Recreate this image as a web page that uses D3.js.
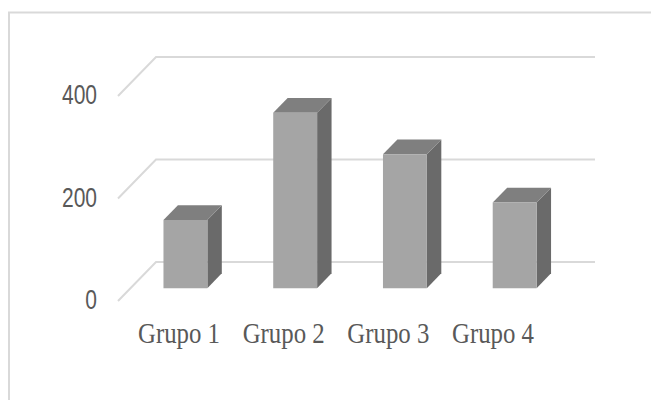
<!DOCTYPE html>
<html lang="en">
<head>
  <meta charset="utf-8">
  <script src="https://d3js.org/d3.v7.min.js"></script>
  <style>
    body { margin: 0; background: #fff; }
  </style>
</head>
<body>
<script type="text/javascript">
  var w = 651;
  var h = 400;

  var categories = ["Grupo 1", "Grupo 2", "Grupo 3", "Grupo 4"];
  var values = [133, 342, 261, 167];
  var tickValues = [0, 200, 400];

  // depth of the floor (back wall -> front edge)
  var depthX = 38, depthY = 39;
  var barFront = 0.67, barBack = 0.29;

  var svg = d3.select("body")
          .append("svg")
          .attr("width", w)
          .attr("height", h);

  // chart border
  svg.append("rect")
    .attr("x", 9)
    .attr("y", 12.5)
    .attr("width", w)
    .attr("height", h)
    .attr("fill", "none")
    .attr("stroke", "#d9d9d9")
    .attr("stroke-width", 2);

  var x = d3.scaleBand()
          .domain(categories)
          .range([156, 595])
          .paddingInner(0.6)
          .paddingOuter(0.3);

  var y = d3.scaleLinear()
          .domain([0, 400])
          .range([262, 57]);

  var labelX = d3.scalePoint()
          .domain(categories)
          .range([179, 493]);

  function pt(px, v, d) {
    return [px - depthX * d, y(v) + depthY * d];
  }

  // back wall gridlines + floor diagonals
  var grid = svg.append("g").attr("stroke", "#d9d9d9").attr("stroke-width", 2).attr("fill", "none");
  tickValues.forEach(function (t) {
    var a = pt(595, t, 0), b = pt(156, t, 0), c = pt(156, t, 1);
    grid.append("path").attr("d", d3.line()([a, b, c]));
  });

  // y labels
  svg.selectAll("text.ytick")
    .data(tickValues)
    .join("text")
    .attr("class", "ytick")
    .attr("transform", function (d) { var p = pt(156, d, 1); return `translate(${p[0] - 21}, ${p[1] + 1}) scale(0.75,1)`; })
    .attr("text-anchor", "end")
    .attr("dominant-baseline", "middle")
    .attr("font-family", "Liberation Sans, Arial, sans-serif")
    .attr("font-size", 28)
    .attr("fill", "#595959")
    .text(function (d) { return d; });

  // 3d bars
  var bars = svg.selectAll("g.bar")
          .data(values)
          .join("g")
          .attr("class", "bar");

  bars.each(function (v, i) {
    var g = d3.select(this);
    var x0 = x(categories[i]), x1 = x0 + x.bandwidth();
    var fbl = pt(x0, 0, barFront), fbr = pt(x1, 0, barFront);
    var ftl = pt(x0, v, barFront), ftr = pt(x1, v, barFront);
    var bbr = pt(x1, 0, barBack);
    var btl = pt(x0, v, barBack), btr = pt(x1, v, barBack);

    g.append("path")
      .attr("d", d3.line()([fbr, ftr, btr, bbr]) + "Z")
      .attr("fill", "#6a6a6a");
    g.append("path")
      .attr("d", d3.line()([ftl, ftr, btr, btl]) + "Z")
      .attr("fill", "#7f7f7f");
    g.append("path")
      .attr("d", d3.line()([fbl, fbr, ftr, ftl]) + "Z")
      .attr("fill", "#a5a5a5");
  });

  // category labels
  svg.selectAll("text.xtick")
    .data(categories)
    .join("text")
    .attr("class", "xtick")
    .attr("transform", function (d) { return `translate(${labelX(d)}, 343) scale(0.856,1)`; })
    .attr("text-anchor", "middle")
    .attr("font-family", "Liberation Serif, Times New Roman, serif")
    .attr("font-size", 29)
    .attr("fill", "#595959")
    .text(function (d) { return d; });
</script>
</body>
</html>
